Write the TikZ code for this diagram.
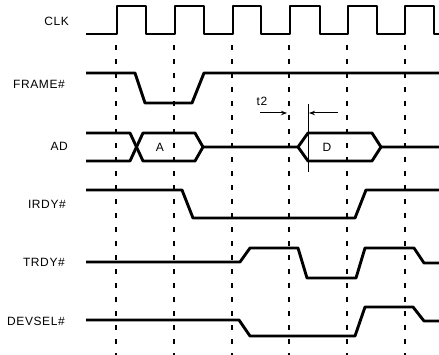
\documentclass[tikz,border=0pt]{standalone}
\usepackage{fontspec}
\setmainfont{Liberation Sans}[LetterSpace=5]
\usetikzlibrary{arrows.meta}
\begin{document}
\begin{tikzpicture}[x=1pt,y=-1pt,
  sig/.style={line width=2.9pt,line join=round,line cap=butt},
  grid/.style={line width=1.2pt,dash pattern=on 5pt off 9pt},
  lbl/.style={anchor=east,inner sep=0pt,font=\fontsize{12}{13}\selectfont},
  bus/.style={inner sep=0pt,font=\fontsize{12}{13}\selectfont},
  dim/.style={line width=1pt,-{Stealth[length=6pt,width=4.5pt]}}]
\useasboundingbox (0,0) rectangle (439,355);
% grid
\foreach \gx in {116,174,232,289,347,405}
  \draw[grid] (\gx,45) -- (\gx,355);
% labels
\node[lbl] (lclk) at (69,21.5) {CLK};
\node[lbl] (lframe) at (65,84) {FRAME\#};
\node[lbl] (lad) at (68,146) {AD};
\node[lbl] (lirdy) at (66,204) {IRDY\#};
\node[lbl] (ltrdy) at (65,262) {TRDY\#};
\node[lbl] (ldevsel) at (65,321) {DEVSEL\#};
% CLK
\draw[sig] (86,34) -- (117,34) -- (117,6) -- (146,6) -- (146,34) -- (175,34) -- (175,6) -- (204,6) -- (204,34)
  -- (233,34) -- (233,6) -- (261,6) -- (261,34) -- (290,34) -- (290,6) -- (320,6) -- (320,34)
  -- (348,34) -- (348,6) -- (377,6) -- (377,34) -- (405,34) -- (405,6) -- (434,6) -- (434,34) -- (439,34);
% FRAME#
\draw[sig] (86,73) -- (135,73) -- (145,103) -- (192,103) -- (204,73) -- (439,73);
% AD
\draw[sig] (86,133) -- (130,133) -- (143,161) -- (195,161) -- (203,147) -- (298,147) -- (308,133) -- (372,133) -- (381,147) -- (439,147);
\draw[sig] (86,161) -- (130,161) -- (143,133) -- (195,133) -- (203,147);
\draw[sig] (298,147) -- (308,161) -- (372,161) -- (381,147);
\node[bus] (busa) at (160,147) {A};
\node[bus] (busd) at (327,147) {D};
% IRDY#
\draw[sig] (86,190) -- (182,190) -- (193,218) -- (355,218) -- (366,190) -- (439,190);
% TRDY#
\draw[sig] (86,262) -- (240,262) -- (250,248) -- (298,248) -- (307,278) -- (356,278) -- (365,248) -- (414,248) -- (424,263) -- (439,263);
% DEVSEL#
\draw[sig] (86,320) -- (239,320) -- (250,336) -- (355,336) -- (365,307) -- (413,307) -- (424,321) -- (439,321);
% t2
\node[bus] (t2) at (262,101) {t2};
\coordinate (a1s) at (260,113);
\coordinate (a1e) at (287,113);
\coordinate (a2s) at (338,113);
\coordinate (a2e) at (309,113);
\coordinate (vt) at (308,104);
\coordinate (vb) at (308,172);
\draw[dim] (a1s) -- (a1e);
\draw[dim] (a2s) -- (a2e);
\draw[line width=1pt] (vt) -- (vb);
\end{tikzpicture}
\end{document}
